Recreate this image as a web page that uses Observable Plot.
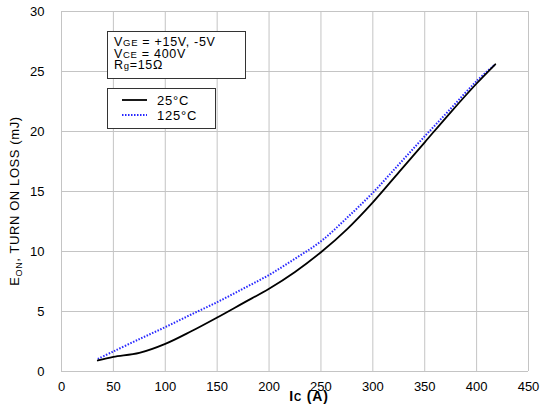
<!DOCTYPE html>
<html>
<head>
<meta charset="utf-8">
<script src="https://cdn.jsdelivr.net/npm/d3@7"></script>
<script src="https://cdn.jsdelivr.net/npm/@observablehq/plot@0.6"></script>
<style>
  html, body { margin: 0; padding: 0; background: #fff; }
  #chart { position: relative; width: 544px; height: 409px; }
</style>
</head>
<body>
<div id="chart"></div>
<script>
// Collector current (A)
const ic = [35, 50, 75, 100, 125, 150, 175, 200, 225, 250, 275, 300, 325, 350, 375, 400, 418];
// Turn-on loss (mJ) at 25°C
const eon25 = [0.92, 1.22, 1.55, 2.3, 3.35, 4.5, 5.7, 6.9, 8.3, 9.94, 11.85, 14.1, 16.6, 19.1, 21.6, 24.0, 25.6];
// Turn-on loss (mJ) at 125°C
const eon125 = [1.05, 1.67, 2.7, 3.7, 4.75, 5.78, 6.9, 8.05, 9.4, 10.85, 12.8, 14.9, 17.25, 19.6, 21.9, 24.2, 25.6];
const xTicks = [0, 50, 100, 150, 200, 250, 300, 350, 400, 450];
const yTicks = [0, 5, 10, 15, 20, 25, 30];
const seriesNames = ["25°C", "125°C"];

const d25 = ic.map((x, i) => ({x, y: eon25[i]}));
const d125 = ic.map((x, i) => ({x, y: eon125[i]}));

const chart = Plot.plot({
  width: 544,
  height: 409,
  marginLeft: 61,
  marginRight: 16,
  marginTop: 11,
  marginBottom: 38,
  style: {fontFamily: "'Liberation Sans', Arial, sans-serif", fontSize: "13px", background: "#fff", color: "#000"},
  x: {domain: [0, 450]},
  y: {domain: [0, 30]},
  marks: [
    Plot.ruleX(xTicks, {stroke: "#c4c4c4", strokeWidth: 1}),
    Plot.ruleY(yTicks, {stroke: "#c4c4c4", strokeWidth: 1}),
    Plot.axisX({ticks: xTicks, tickSize: 0, tickPadding: 10, label: null, fontSize: 13, style: "letter-spacing:1.4px"}),
    Plot.axisY({ticks: yTicks, tickSize: 0, tickPadding: 17, label: null, fontSize: 13, style: "letter-spacing:1.1px"}),
    Plot.line(d125, {x: "x", y: "y", curve: "catmull-rom", stroke: "#2828ff", strokeWidth: 2, strokeDasharray: "1.5,1.5", strokeLinecap: "butt"}),
    Plot.line(d25, {x: "x", y: "y", curve: "catmull-rom", stroke: "#000", strokeWidth: 1.8})
  ]
});

const svg = d3.select(chart);
const font = "'Liberation Sans', Arial, sans-serif";

// Axis titles
const xl = svg.append("text")
  .attr("x", 309).attr("y", 401)
  .attr("text-anchor", "middle")
  .attr("font-family", font).attr("font-size", 14).attr("font-weight", "bold")
  .style("letter-spacing", "0.8px");
xl.append("tspan").text("I");
xl.append("tspan").attr("font-size", 10).text("C");
xl.append("tspan").text(" (A)");

const yl = svg.append("text")
  .attr("transform", "translate(19,201) rotate(-90)")
  .attr("text-anchor", "middle")
  .attr("font-family", font).attr("font-size", 13)
  .style("letter-spacing", "0.6px");
yl.append("tspan").text("E");
yl.append("tspan").attr("font-size", 9).attr("dy", 3).text("ON");
yl.append("tspan").attr("dy", -3).text(", TURN ON LOSS (mJ)");

// Conditions box
svg.append("rect").attr("x", 107.5).attr("y", 31.5).attr("width", 138).attr("height", 47)
  .attr("fill", "#fff").attr("stroke", "#333").attr("stroke-width", 1);
const lines = [
  [["V", 12.5], ["GE", 9.5], [" = +15V, -5V", 12.5]],
  [["V", 12.5], ["CE", 9.5], [" = 400V", 12.5]],
  [["R", 12.5], ["g", 9.5], ["=15Ω", 12.5]]
];
const baselines = [45.5, 57.5, 69];
lines.forEach((parts, i) => {
  const t = svg.append("text").attr("x", 114).attr("y", baselines[i])
    .attr("text-anchor", "start")
    .attr("font-family", font).style("letter-spacing", "0.7px");
  parts.forEach(([s, fs]) => t.append("tspan").attr("font-size", fs).text(s));
});

// Legend box
svg.append("rect").attr("x", 107.5).attr("y", 88.5).attr("width", 108).attr("height", 40)
  .attr("fill", "#fff").attr("stroke", "#333").attr("stroke-width", 1);
svg.append("line").attr("x1", 122).attr("x2", 147).attr("y1", 100).attr("y2", 100)
  .attr("stroke", "#000").attr("stroke-width", 1.8);
svg.append("line").attr("x1", 122).attr("x2", 147).attr("y1", 115).attr("y2", 115)
  .attr("stroke", "#2828ff").attr("stroke-width", 2).attr("stroke-dasharray", "1.5,1.5");
[[seriesNames[0], 104.5], [seriesNames[1], 119.5]].forEach(([s, y]) => {
  svg.append("text").attr("x", 157).attr("y", y)
    .attr("text-anchor", "start")
    .attr("font-family", font).attr("font-size", 13).style("letter-spacing", "0.8px").text(s);
});

document.getElementById("chart").appendChild(chart);
</script>
</body>
</html>
